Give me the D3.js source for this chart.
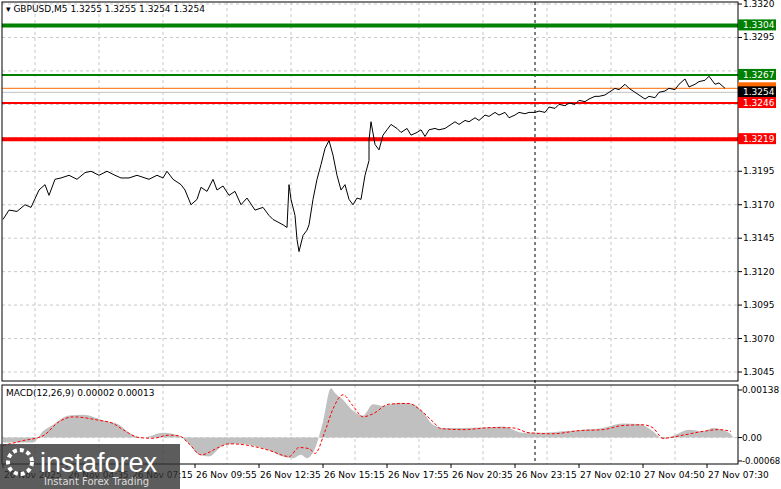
<!DOCTYPE html><html><head><meta charset="utf-8"><script src="https://cdn.jsdelivr.net/npm/d3@7"></script>
<style>body{margin:0;background:#fff}svg{font-family:Tahoma,"DejaVu Sans",sans-serif}</style></head><body><svg id="c" width="781" height="489"></svg><script>
const priceBars=[0,3,7,11,14,18,21,23,26,29,33,37,41,44,48,52,56,59,63,67,73,77,80,82,85,89,91,94,97,99,102,105,107,110,113,116,119,122,126,130,133,135,140,142,143,144,146,147,148,150,152,153,155,157,159,161,163,165,167,169,171,173,175,177,179,181,183,183,184,186,188,190,192,194,197,199,202,204,207,209,211,213,216,218,221,223,226,228,231,233,236,238,241,243,246,248,251,253,256,258,261,263,266,268,271,273,276,278,281,283,286,288,291,293,296,298,301,303,306,308,311,313,316,318,321,323,326,328,331,333,336,338,341,343,346,348,351,353,356,358,361];
const prices=[1.3159,1.3166,1.3165,1.3170,1.3168,1.3181,1.3185,1.3177,1.3189,1.3190,1.3192,1.3189,1.3194,1.3195,1.3192,1.3195,1.3192,1.3190,1.3190,1.3192,1.3189,1.3192,1.3190,1.3195,1.3189,1.3185,1.3181,1.3170,1.3174,1.3183,1.3180,1.3189,1.3181,1.3184,1.3177,1.3180,1.3170,1.3175,1.3166,1.3168,1.3162,1.3159,1.3155,1.3153,1.3185,1.3174,1.3162,1.3144,1.3135,1.3147,1.3151,1.3155,1.3174,1.3189,1.3200,1.3212,1.3218,1.3207,1.3192,1.3181,1.3185,1.3174,1.3170,1.3175,1.3174,1.3192,1.3203,1.3218,1.3232,1.3215,1.3211,1.3222,1.3226,1.3230,1.3227,1.3224,1.3227,1.3222,1.3224,1.3226,1.3221,1.3226,1.3227,1.3226,1.3227,1.3229,1.3232,1.3230,1.3233,1.3232,1.3235,1.3233,1.3237,1.3236,1.3239,1.3237,1.3239,1.3235,1.3237,1.3239,1.3238,1.3239,1.3239,1.3240,1.3239,1.3243,1.3242,1.3245,1.3244,1.3246,1.3245,1.3248,1.3247,1.3249,1.3251,1.3251,1.3252,1.3254,1.3257,1.3256,1.3260,1.3257,1.3254,1.3252,1.3249,1.3251,1.3250,1.3254,1.3255,1.3257,1.3256,1.3260,1.3264,1.3258,1.3260,1.3262,1.3263,1.3266,1.3260,1.3261,1.3257];
const histBars=[0,15,20,25,33,40,50,58,63,70,80,88,93,98,103,110,118,125,133,140,145,149,152,156,160,164,166,170,175,180,185,190,198,205,210,215,220,230,240,250,260,270,280,290,300,310,318,325,330,335,343,350,355,363,365];
const histVals=[-0.00014,-0.00014,0.00018,0.00037,0.00064,0.00066,0.0005,0.00037,0.00014,0,0.00014,0.00005,-0.00018,-0.0005,-0.00055,-0.00023,-0.00018,-0.00023,-0.00037,-0.00055,-0.0006,-0.0005,-0.0006,-0.00032,0.00046,0.00143,0.00129,0.0011,0.00078,0.00064,0.00097,0.00092,0.00101,0.00097,0.00074,0.00037,0.00028,0.00028,0.00029,0.00032,0.00014,0.00014,0.00018,0.00023,0.00028,0.00041,0.00039,0.00018,-0.00005,0.00005,0.00023,0.00018,0.00028,0.00014,0.00002];
const sigBars=[0,10,20,28,35,48,55,60,68,75,83,88,93,99,108,113,123,133,143,148,153,156,161,165,170,175,180,185,193,203,208,215,219,230,245,255,263,275,288,300,310,320,325,330,340,350,358,364];
const sigVals=[-0.00023,-0.00009,0.00005,0.00046,0.0006,0.0005,0.00041,0.00023,0,-0.00002,0.00007,0.00005,-0.00018,-0.0005,-0.00028,-0.00018,-0.00023,-0.00037,-0.00055,-0.00029,-0.00032,-0.00046,0.00018,0.00083,0.00124,0.00092,0.0006,0.00069,0.00097,0.00099,0.00083,0.00046,0.00026,0.00023,0.00029,0.00028,0.00014,0.00011,0.0002,0.00023,0.00035,0.00037,0.00028,-0.00002,0.00007,0.00018,0.00023,0.00018];
const priceTicks=[1.3320,1.3295,1.3270,1.3245,1.3220,1.3195,1.3170,1.3145,1.3120,1.3095,1.3070,1.3045];
const timeLabels=["26 Nov 2025","26 Nov 04:35","26 Nov 07:15","26 Nov 09:55","26 Nov 12:35","26 Nov 15:15","26 Nov 17:55","26 Nov 20:35","26 Nov 23:15","27 Nov 02:10","27 Nov 04:50","27 Nov 07:30"];
const levels=[{v:1.3304,c:"#008000",w:4},{v:1.3267,c:"#008000",w:2},{v:1.3257,c:"#ff6a00",w:1},{v:1.3254,c:"#c0c0c0",w:1},{v:1.3246,c:"#ff0000",w:2},{v:1.3219,c:"#ff0000",w:4}];
const tags=[{v:1.3304,c:"#008000",t:"1.3304"},{v:1.3267,c:"#008000",t:"1.3267"},{v:1.3257,c:"#ff6a00",t:""},{v:1.3254,c:"#000",t:"1.3254"},{v:1.3246,c:"#ff0000",t:"1.3246"},{v:1.3219,c:"#ff0000",t:"1.3219"}];
const macdTicks=[0.00138,0,-0.00068];
const macdTickLabels=["0.00138","0.00","-0.00068"];

const svg=d3.select("#c");
const L=2,R=738;
const x=d3.scaleLinear().domain([0,367]).range([3,737]);
const y=d3.scaleLinear().domain([1.3045,1.3320]).range([372,4]);
const ym=d3.scaleLinear().domain([-0.00068,0.00138]).range([461,390]);
const grid="#c8c8c8";
svg.append("g").selectAll("line").data(priceTicks).join("line").attr("x1",L).attr("x2",R).attr("y1",d=>y(d)).attr("y2",d=>y(d)).attr("stroke",grid).attr("stroke-dasharray","3,3");
const vg=d3.range(0,11).map(k=>16+32*k);
[[2,381],[385,464]].forEach(([a,b])=>svg.append("g").selectAll("line").data(vg).join("line").attr("x1",d=>x(d)).attr("x2",d=>x(d)).attr("y1",a).attr("y2",b).attr("stroke",grid).attr("stroke-dasharray","3,3"));
svg.append("line").attr("x1",x(266)).attr("x2",x(266)).attr("y1",2).attr("y2",464).attr("stroke","#000").attr("stroke-dasharray","3,3");
levels.forEach(l=>svg.append("line").attr("x1",L).attr("x2",R).attr("y1",y(l.v)).attr("y2",y(l.v)).attr("stroke",l.c).attr("stroke-width",l.w));
svg.append("path").datum(priceBars.map((b,i)=>[b,prices[i]])).attr("d",d3.line().x(d=>x(d[0])).y(d=>y(d[1]))).attr("fill","none").attr("stroke","#000").attr("stroke-width",1);
svg.append("path").datum(histBars.map((b,i)=>[b,histVals[i]])).attr("d",d3.area().curve(d3.curveMonotoneX).x(d=>x(d[0])).y0(ym(0)).y1(d=>ym(d[1]))).attr("fill","#c0c0c0");
svg.append("line").attr("x1",L).attr("x2",R).attr("y1",ym(0)).attr("y2",ym(0)).attr("stroke",grid).attr("stroke-dasharray","3,3");
svg.append("path").datum(sigBars.map((b,i)=>[b,sigVals[i]])).attr("d",d3.line().curve(d3.curveMonotoneX).x(d=>x(d[0])).y(d=>ym(d[1]))).attr("fill","none").attr("stroke","#ff0000").attr("stroke-dasharray","3,2");
svg.append("rect").attr("x",L).attr("y",2).attr("width",R-L).attr("height",379).attr("fill","none").attr("stroke","#000");
svg.append("rect").attr("x",L).attr("y",385).attr("width",R-L).attr("height",79).attr("fill","none").attr("stroke","#000");
const ax=svg.append("g").attr("font-size",9);
priceTicks.forEach(t=>{ax.append("line").attr("x1",R).attr("x2",R+4).attr("y1",y(t)).attr("y2",y(t)).attr("stroke","#000");
  if(!tags.some(g=>Math.abs(y(g.v)-y(t))<10)) ax.append("text").attr("x",R+5).attr("y",y(t)+3).text(t.toFixed(4));});
macdTicks.forEach((t,i)=>{ax.append("line").attr("x1",R).attr("x2",R+4).attr("y1",ym(t)).attr("y2",ym(t)).attr("stroke","#000");ax.append("text").attr("x",R+4).attr("y",ym(t)+3).attr("font-size",i==2?8.5:9).text(macdTickLabels[i]);});
tags.forEach(g=>{ax.append("rect").attr("x",R).attr("y",y(g.v)-6).attr("width",38).attr("height",11).attr("fill",g.c);if(g.t)ax.append("text").attr("x",R+5).attr("y",y(g.v)+3).attr("fill","#fff").text(g.t);});
timeLabels.forEach((t,k)=>{const xx=x(32*k);ax.append("line").attr("x1",xx).attr("x2",xx).attr("y1",464).attr("y2",468).attr("stroke","#000");ax.append("text").attr("x",xx+1).attr("y",478).text(t);});
svg.append("text").attr("x",6).attr("y",12).attr("font-size",9).text("▾ GBPUSD,M5  1.3255 1.3255 1.3254 1.3254");
svg.append("text").attr("x",6).attr("y",396).attr("font-size",9).text("MACD(12,26,9) 0.00002 0.00013");
const w=svg.append("g");
w.append("rect").attr("x",0).attr("y",444).attr("width",180).attr("height",45).attr("fill","#333").attr("opacity",0.8);
w.append("circle").attr("cx",20).attr("cy",462).attr("r",12).attr("fill","none").attr("stroke","#fff").attr("stroke-width",4).attr("stroke-dasharray","4,3");
w.append("text").attr("x",40).attr("y",472).attr("font-size",27).attr("fill","#fff").attr("font-family","Arial,Liberation Sans").text("instaforex");
w.append("text").attr("x",44).attr("y",485).attr("font-size",10).attr("fill","#ddd").text("Instant Forex Trading");
</script></body></html>
